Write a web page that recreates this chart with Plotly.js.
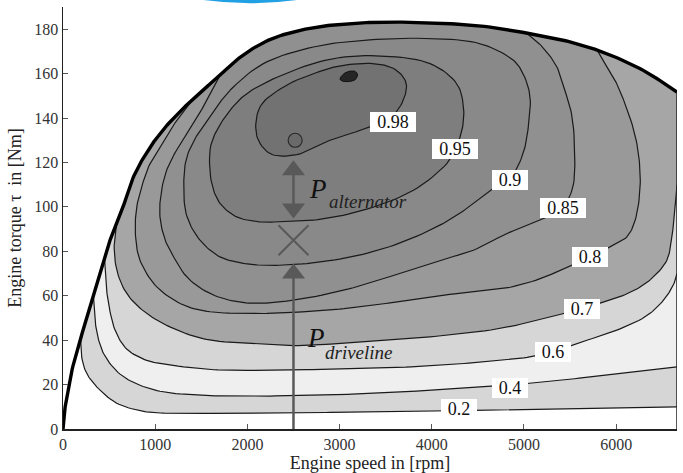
<!DOCTYPE html>
<html><head><meta charset="utf-8">
<script src="https://cdn.plot.ly/plotly-3.0.1.min.js"></script>
<style>html,body{margin:0;padding:0;background:#fff}#chart{width:683px;height:473px}</style>
</head><body><div id="chart"></div>
<script>
// ---- data (engine speed in rpm, torque in Nm) ----
const maxTorqueSpeed = [0,10,40,100,200,300,400,510,620,759,900,1052,1200,1345,1500,1671,1850,2029,2200,2387,2756,3114,3472,3982,4524,5067,5450,5794,6100,6336,6660];
const maxTorqueValue = [0,6,14,27,42,56,70,85,96,113,124,133,140,146,152,158,165,170.5,174.5,177.5,181,182.5,183.2,182.8,181.5,178,174.8,170.6,165.5,160.5,151.7];

const eff20Speed  = [190,200,257,401,583,835,1017,1500,2000,2500,3000,3500,4000,4500,5000,5500,6000,6660];
const eff20Torque = [40.5,33,25,17.5,11.6,8.2,7.3,7,7.1,7.3,7.5,7.7,8,8.4,8.8,9.2,9.6,10];

const eff40Speed  = [330,345,375,440,583,763,1052,1500,2000,2500,3000,3440,4000,4500,4845,5300,5800,6300,6660];
const eff40Torque = [60,50,42,34,26,21,17,15.2,14.8,15,15.5,16.2,17.5,18.8,19.8,21.5,23.8,26,28];

const eff60Speed  = [450,465,500,570,691,900,1052,1595,2000,2500,3000,3440,4000,4500,5000,5311,5574,6007,6333,6514,6622,6660];
const eff60Torque = [77,66,55,44,36,31,29.5,26.8,26.4,26.6,27,27.4,28.5,30,32,34.7,38.5,44.5,51,58,65,70];

const eff70Speed  = [580,555,583,691,908,1234,1595,2137,2500,3000,3440,3982,4705,5100,5429,5628,5826,6007,6224,6405,6550,6604,6640,6660];
const eff70Torque = [92,83.6,71.6,61,52,44.6,40,38.5,37.5,38.5,40,41.5,45,48.5,52,54.2,56.7,59,63,68.5,76,86.5,100,110];

const eff80Speed  = [1400,1250,1100,950,860,800,785,835,1017,1306,1595,2137,2500,3000,3500,3982,4500,4814,5200,5501,5720,5935,6116,6206,6260,6242,6188,6100,6006,5900,5794];
const eff80Torque = [148,140,130,120,110,100,88,76,64,55.8,52.8,52,52.5,54,56.5,59.5,62,63.5,68,73.6,77.4,82,86.5,94,109,124,135,146,155.5,163,170.6];

const eff85Speed  = [1700,1550,1400,1250,1120,1060,1052,1100,1161,1342,1595,1884,2137,2500,3000,3500,4090,4452,4814,5176,5421,5530,5550,5520,5440,5357,5200,5031];
const eff85Torque = [159,147,137,127,116,105,95.5,86,80.5,68.5,61,57.3,56.6,58,62,68,76,80.5,88,94,99.7,109,125,141,153,163,172,178.2];

const eff90Speed  = [1812,1600,1450,1340,1310,1342,1486,1703,1957,2137,2500,3000,3500,3982,4300,4633,4852,4990,5050,5065,4990,4886,4524,3982,3258,2716,2173,1812];
const eff90Torque = [152.5,141,132,122,110,96,85,77.5,74.6,73.8,74,76.5,81.5,89.5,97,107.5,113,124,137,150,160,166,173.5,175.8,175,172,164.5,152.5];

const eff95Speed  = [1595,1613,1703,1884,2137,2355,2716,3258,3801,4163,4254,4330,4344,4271,3982,3440,2897,2355,1993,1812,1650,1595];
const eff95Torque = [125.6,110.6,101.6,95.5,93.3,93.3,94,98.5,107.5,119.5,126,135,145,155.5,164.5,168,166.5,159,151,143.5,133,125.6];

const eff98Speed  = [2102,2137,2390,2752,3005,3367,3600,3720,3700,3576,3331,2897,2536,2246,2102];
const eff98Torque = [132,145,154,160.5,163.5,164.5,162,156,149,141,136,130,123.5,124,132];

const peakSpeed  = [3005,3040,3100,3170,3195,3170,3100,3030,3005];
const peakTorque = [157.5,159.8,161,161,159.5,157.3,156.4,156.6,157.5];

const contourLevels = ['0.2','0.4','0.6','0.7','0.8','0.85','0.9','0.95','0.98'];
const levelColors   = ['#d6d6d6','#efefef','#d6d6d6','#a6a6a6','#999999','#909090','#898989','#7e7e7e','#727272'];

const labelText   = ['0.98','0.95','0.9','0.85','0.8','0.7','0.6','0.4','0.2'];
const labelSpeed  = [3576,4254,4852,5421,5720,5628,5311,4845,4291];
const labelTorque = [138,126,112,99.7,77.4,54.2,34.7,18.5,9.2];

const opSpeed = [2518], opTorque = [130];
const arrowSpeed = 2500;
const drivelineShaft = [0, 68];
const drivelineHead = 70;
const crossTorque = 85;
const alternatorShaft = [101, 115];
const alternatorUpHead = 116.5;
const alternatorDownHead = 99.3;
const xTicks = [0,1000,2000,3000,4000,5000,6000];
const yTicks = [0,20,40,60,80,100,120,140,160,180];
const xRange = [0, 6660], yRange = [0, 190];

// ---- smooth drawing path through the read points (centripetal Catmull-Rom, in screen proportions) ----
const SX = 614 / xRange[1], SY = 422 / yRange[1];
function smoothPath(xs, ys, closed, per) {
  per = per || 10;
  let P = xs.map((x, i) => [x * SX, ys[i] * SY]);
  if (closed) P = P.slice(0, -1);
  const n = P.length;
  const get = (i) => {
    if (closed) return P[((i % n) + n) % n];
    if (i < 0) return [2 * P[0][0] - P[1][0], 2 * P[0][1] - P[1][1]];
    if (i >= n) return [2 * P[n - 1][0] - P[n - 2][0], 2 * P[n - 1][1] - P[n - 2][1]];
    return P[i];
  };
  const d = (a, b) => Math.max(Math.pow(Math.hypot(b[0] - a[0], b[1] - a[1]), 0.5), 1e-3);
  const out = [];
  const segs = closed ? n : n - 1;
  for (let i = 0; i < segs; i++) {
    const p0 = get(i - 1), p1 = get(i), p2 = get(i + 1), p3 = get(i + 2);
    const t0 = 0, t1 = t0 + d(p0, p1), t2 = t1 + d(p1, p2), t3 = t2 + d(p2, p3);
    for (let k = 0; k < per; k++) {
      const t = t1 + (t2 - t1) * k / per;
      const L = (a, b, ta, tb) => [(tb - t) / (tb - ta) * a[0] + (t - ta) / (tb - ta) * b[0],
                                   (tb - t) / (tb - ta) * a[1] + (t - ta) / (tb - ta) * b[1]];
      const A1 = L(p0, p1, t0, t1), A2 = L(p1, p2, t1, t2), A3 = L(p2, p3, t2, t3);
      const B1 = L(A1, A2, t0, t2), B2 = L(A2, A3, t1, t3);
      out.push(L(B1, B2, t1, t2));
    }
  }
  out.push(closed ? P[0] : P[n - 1]);
  return [out.map(p => p[0] / SX), out.map(p => p[1] / SY)];
}

const [bndX, bndY] = smoothPath(maxTorqueSpeed, maxTorqueValue, false, 12);
function openRegion(cx, cy) {
  const sx = cx[0], ex = cx[cx.length - 1];
  const px = cx.slice(), py = cy.slice();
  for (let i = bndX.length - 1; i >= 0; i--) {
    if (bndX[i] > sx && bndX[i] <= ex) { px.push(bndX[i]); py.push(bndY[i]); }
  }
  px.push(cx[0]); py.push(cy[0]);
  return [px, py];
}
const contours = [
  [eff20Speed, eff20Torque, true],
  [eff40Speed, eff40Torque, true],
  [eff60Speed, eff60Torque, true],
  [eff70Speed, eff70Torque, true],
  [eff80Speed, eff80Torque, true],
  [eff85Speed, eff85Torque, true],
  [eff90Speed, eff90Torque, false],
  [eff95Speed, eff95Torque, false],
  [eff98Speed, eff98Torque, false]
];
const traces = [];
const lineTraces = [];
contours.forEach((c, i) => {
  const [sx, sy] = smoothPath(c[0], c[1], !c[2], 10);
  const [px, py] = c[2] ? openRegion(sx, sy) : [sx, sy];
  traces.push({x: px, y: py, type: 'scatter', mode: 'lines', fill: 'toself',
    fillcolor: levelColors[i], line: {width: 0}, hoverinfo: 'skip', name: contourLevels[i]});
  lineTraces.push({x: sx, y: sy, type: 'scatter', mode: 'lines',
    line: {color: '#1a1a1a', width: 1.2}, hoverinfo: 'skip'});
});
const [pkx, pky] = smoothPath(peakSpeed, peakTorque, true, 8);
traces.push({x: pkx, y: pky, type: 'scatter', mode: 'lines', fill: 'toself',
  fillcolor: '#262626', line: {color: '#111', width: 1}, hoverinfo: 'skip'});
traces.push(...lineTraces);
// right edge (max speed)
traces.push({x: [xRange[1], xRange[1]], y: [0, maxTorqueValue[maxTorqueValue.length - 1]], type: 'scatter', mode: 'lines',
  line: {color: '#222', width: 1.5}, cliponaxis: false, hoverinfo: 'skip'});
// max torque curve
traces.push({x: bndX, y: bndY, type: 'scatter', mode: 'lines',
  line: {color: '#000', width: 3.4}, cliponaxis: false, hoverinfo: 'skip'});
// arrows
const arrowColor = '#595959';
traces.push({x: [arrowSpeed, arrowSpeed], y: drivelineShaft, type: 'scatter', mode: 'lines',
  line: {color: arrowColor, width: 2.5}, hoverinfo: 'skip'});
traces.push({x: [arrowSpeed, arrowSpeed], y: alternatorShaft, type: 'scatter', mode: 'lines',
  line: {color: arrowColor, width: 2.5}, hoverinfo: 'skip'});
traces.push({x: [arrowSpeed, arrowSpeed], y: [drivelineHead, alternatorUpHead], type: 'scatter', mode: 'markers',
  marker: {symbol: 'triangle-up', size: 20, color: arrowColor, line: {width: 0}}, hoverinfo: 'skip'});
traces.push({x: [arrowSpeed], y: [alternatorDownHead], type: 'scatter', mode: 'markers',
  marker: {symbol: 'triangle-down', size: 20, color: arrowColor, line: {width: 0}}, hoverinfo: 'skip'});
traces.push({x: [arrowSpeed], y: [crossTorque], type: 'scatter', mode: 'markers',
  marker: {symbol: 'x-thin-open', size: 30, color: arrowColor, line: {color: arrowColor, width: 2}}, hoverinfo: 'skip'});
traces.push({x: opSpeed, y: opTorque, type: 'scatter', mode: 'markers',
  marker: {symbol: 'circle', size: 14, color: '#6a6a6a', line: {color: '#2a2a2a', width: 1.2}}, hoverinfo: 'skip'});

const serif = 'Liberation Serif, Times New Roman, serif';
const annotations = labelText.map((t, i) => ({
  x: labelSpeed[i], y: labelTorque[i], text: t, showarrow: false,
  bgcolor: '#ffffff', borderpad: 0, borderwidth: 0,
  width: t.length > 3 ? 46 : 36, height: 20,
  font: {size: 18, color: '#111', family: serif}
}));
// power-flow labels: big P with a separate subscript word
const powerLabels = [
  {main: 'P', sub: 'alternator', x: 2647, y: 108, subX: 2864, subY: 102.5},
  {main: 'P', sub: 'driveline',  x: 2626, y: 41,  subX: 2821, subY: 34.5}
];
powerLabels.forEach(p => {
  annotations.push({x: p.x, y: p.y, xanchor: 'left', yanchor: 'middle', showarrow: false,
    text: '<i>' + p.main + '</i>', font: {size: 27, color: '#111', family: serif}});
  annotations.push({x: p.subX, y: p.subY, xanchor: 'left', yanchor: 'middle', showarrow: false,
    text: '<i>' + p.sub + '</i>', font: {size: 19, color: '#222', family: serif}});
});

const layout = {
  width: 683, height: 473,
  margin: {l: 63, r: 6, t: 7, b: 44},
  paper_bgcolor: '#fff', plot_bgcolor: '#fff',
  showlegend: false,
  font: {family: serif, color: '#222'},
  xaxis: {range: xRange, tickvals: xTicks, ticktext: xTicks.map(String), ticks: 'inside', ticklen: 5,
    tickcolor: '#555', showline: true, linecolor: '#222', linewidth: 1.5, showgrid: false, zeroline: false,
    tickfont: {size: 16, color: '#333'},
    title: {text: 'Engine speed in [rpm]', font: {size: 18, color: '#222'}, standoff: 0}},
  yaxis: {range: yRange, tickvals: yTicks, ticktext: yTicks.map(String), ticks: 'inside', ticklen: 5,
    tickcolor: '#555', showline: true, linecolor: '#222', linewidth: 1.5, showgrid: false, zeroline: false,
    tickfont: {size: 16, color: '#333'},
    title: {text: 'Engine torque τ  in [Nm]', font: {size: 18, color: '#222'}, standoff: 8}},
  annotations: annotations,
  shapes: [{type: 'path', xref: 'paper', yref: 'paper',
    path: 'M 0.205,1.022 Q 0.305,0.996 0.405,1.022 Z',
    fillcolor: '#22a0e4', line: {width: 0}, layer: 'above'}]
};
Plotly.newPlot('chart', traces, layout, {displayModeBar: false, staticPlot: true});
</script>
</body></html>
